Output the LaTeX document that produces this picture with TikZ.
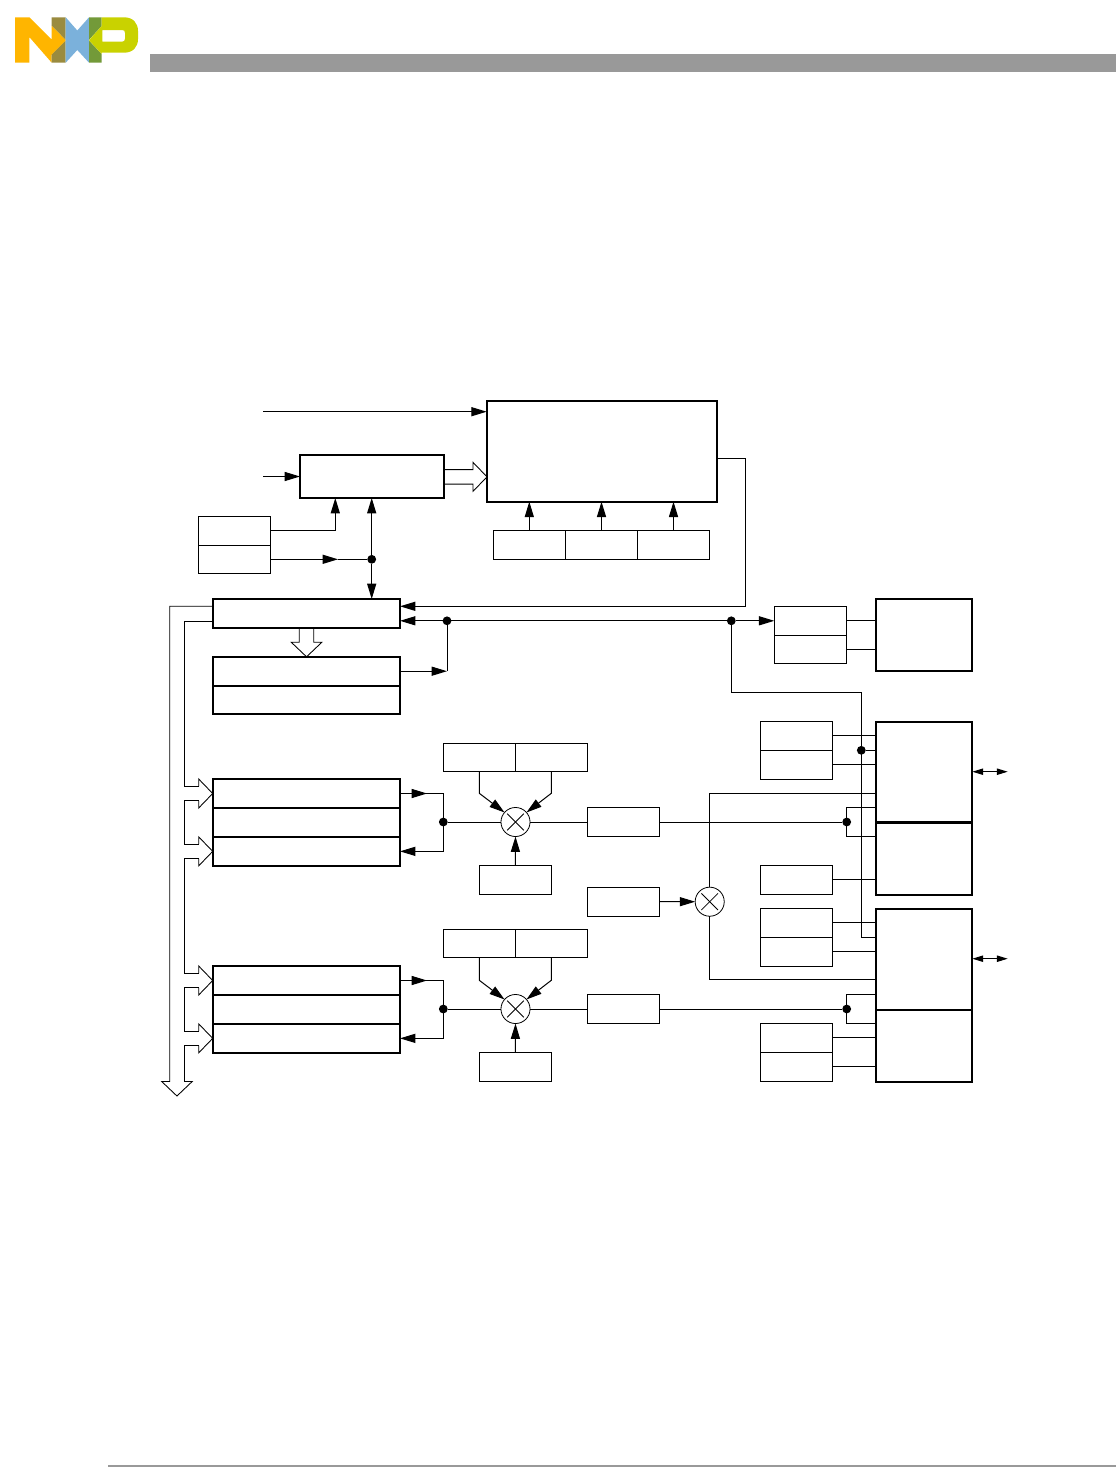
\documentclass[tikz,border=0pt]{standalone}
\usepackage{xcolor}
\usepackage{tikz}
\usetikzlibrary{
	arrows.meta,
	calc
}
\definecolor{nxpYellow}{HTML}{FFB500}
\definecolor{nxpOlive}{HTML}{9A8B3F}
\definecolor{nxpBlue}{HTML}{7BB1DB}
\definecolor{nxpGreen}{HTML}{739A39}
\definecolor{nxpLime}{HTML}{C9D200}
\definecolor{barGray}{HTML}{999999}
\newcommand\PlaceBox[6]{
	% #1: style, #2: name
	% #3,#4: top left corner, #5,#6: bottom right corner (in pixels)
	\node[#1, minimum width={((#5)-(#3))*0.75pt}, minimum height={((#6)-(#4))*0.75pt}]
		(#2) at ({((#3)+(#5))/2},{((#4)+(#6))/2}) {};
}
\newcommand\HeadRight{
	-- ++(0,-7.25) -- ++(14,14.5) -- ++(-14,14.5) -- ++(0,-7.25)
}
\newcommand\HeadDown{
	-- ++(-8,0) -- ++(15.25,14.5) -- ++(15.25,-14.5) -- ++(-8,0)
}
\tikzstyle{every picture}+=[>={Triangle[length=11.5pt,width=6.8pt]}]
\tikzset{
	thinbox/.style={draw, line width=0.75pt, inner sep=0pt, outer sep=0pt},
	thickbox/.style={draw, line width=1.6pt, inner sep=0pt, outer sep=0pt},
	wire/.style={line width=0.75pt},
	bus/.style={line width=0.65pt, line join=miter},
	dot/.style={circle, fill=black, minimum size=6.6pt, inner sep=0pt, outer sep=0pt},
	mixer/.style={circle, draw, line width=0.6pt, minimum size=21.8pt, inner sep=0pt, outer sep=0pt,
		path picture={
			\draw[line width=0.6pt] (path picture bounding box.center) ++(-6.2pt,-6.2pt) -- ++(12.4pt,12.4pt);
			\draw[line width=0.6pt] (path picture bounding box.center) ++(-6.2pt,6.2pt) -- ++(12.4pt,-12.4pt);
		}
	},
	smallarr/.style={<->, >={Triangle[length=8.2pt,width=4.8pt]}}
}
\begin{document}
\begin{tikzpicture}[x=0.75pt, y=-0.75pt]
	\useasboundingbox (0,0) rectangle (1116,1474);

	% page furniture
	\fill[barGray] (150,54) rectangle (1116,72);
	\fill[barGray] (108,1465) rectangle (1116,1467);
	\fill[nxpYellow] (15,17.3) -- (29.3,17.3) -- (51.7,39.5) -- (51.7,25.5) -- (65.7,39.8) -- (65.7,40.6) -- (51.7,54.8)
		-- (51.7,62.7) -- (29.3,37) -- (29.3,62.7) -- (15,62.7) -- cycle;
	\fill[nxpOlive] (51.7,17.3) -- (65.7,17.3) -- (65.7,39.8) -- (51.7,25.5) -- cycle;
	\fill[nxpOlive] (51.7,54.8) -- (65.7,40.6) -- (65.7,62.7) -- (51.7,62.7) -- cycle;
	\fill[nxpBlue] (65.7,17.3) -- (77.3,30.5) -- (89,17.3) -- (89,62.7) -- (77.3,50) -- (65.7,62.7) -- cycle;
	\fill[nxpGreen] (89,17.3) -- (101.7,17.3) -- (101.7,26) -- (89,39.8) -- cycle;
	\fill[nxpGreen] (89,40.6) -- (101.7,54) -- (101.7,62.7) -- (89,62.7) -- cycle;
	\fill[nxpLime, even odd rule] (89,40.2) -- (101.7,26) -- (101.7,17.3) -- (124,17.3)
		.. controls (133,17.3) and (138,23) .. (138,31) -- (138,39)
		.. controls (138,47) and (133,52.7) .. (124,52.7) -- (101.7,52.7) -- (101.7,54) -- cycle
		(102.3,30) -- (122,30) .. controls (124,30) and (125,31) .. (125,33) -- (125,38.7)
		.. controls (125,40.7) and (124,41.7) .. (122,41.7) -- (102.3,41.7) -- cycle;

	% top blocks
	\PlaceBox{thickbox}{mainBlock}{486.7}{401}{717}{501.7}
	\PlaceBox{thickbox}{ctrlBlock}{300}{455}{444}{498}
	\PlaceBox{thinbox}{clkHi}{198.3}{516.5}{270.5}{545.3}
	\PlaceBox{thinbox}{clkLo}{198.3}{545.3}{270.5}{573.3}
	\foreach \n/\x in {1/493.3, 2/565.5, 3/637.5} {
		\PlaceBox{thinbox}{sel\n}{\x}{530.3}{\x+72}{559.3}
		\draw[wire, ->] (sel\n.north) -- (sel\n.north |- mainBlock.south);
	}
	\PlaceBox{thickbox}{busBlock}{212.7}{599}{400}{628}
	\PlaceBox{thickbox}{regHi}{212.7}{656.7}{400}{685.7}
	\PlaceBox{thickbox}{regLo}{212.7}{685.7}{400}{713.7}

	\coordinate (inTop) at (263.3,411.7);
	\coordinate (inCtrl) at (263.3,476.5);
	\coordinate (ctrlFoot) at (335.3,498);
	\coordinate (clkMark) at (338,559.3);
	\node[dot] (dotClk) at (371.7,559.3) {};
	\coordinate (ctrlLeg) at (371.7,498);
	\coordinate (busLeg) at (371.7,599);
	\draw[wire, ->] (inTop) -- (mainBlock.west |- inTop);
	\draw[wire, ->] (inCtrl) -- (ctrlBlock.west);
	\draw[wire, ->] (clkHi.east) -| (ctrlFoot);
	\draw[wire, ->] (clkLo.east) -- (clkMark);
	\draw[wire] (clkMark) -- (dotClk);
	\draw[wire, ->] (dotClk) -- (ctrlLeg);
	\draw[wire, ->] (dotClk) -- (busLeg);
	\draw[bus] (ctrlBlock.east |- 0,469.6) -- (473,469.6) \HeadRight -- (ctrlBlock.east |- 0,484.1);

	\coordinate (mainTap) at (717,458);
	\coordinate (turnMain) at (745.5,606.3);
	\coordinate (busTap) at (400,606.3);
	\draw[wire, ->] (mainTap) -| (turnMain) -- (busTap);
	\node[dot] (dotBusL) at (447,620.8) {};
	\node[dot] (dotBusR) at (731.3,620.8) {};
	\draw[wire, ->] (dotBusL) -- (busBlock.east |- dotBusL);
	\draw[wire] (dotBusL) -- (dotBusR);
	\draw[wire, ->] (regHi.east) -- (regHi.east -| dotBusL);
	\draw[wire] (regHi.east -| dotBusL) -- (dotBusL);
	\draw[bus] (299.3,628) -- (299.3,642.3) \HeadDown -- (313.8,628);

	% the two channels
	\foreach \n/\dy/\dz in {A/0/0, B/187/186} {
		\PlaceBox{thickbox}{rowOne\n}{212.7}{779+\dy}{400}{808+\dy}
		\PlaceBox{thickbox}{rowTwo\n}{212.7}{808+\dy}{400}{837+\dy}
		\PlaceBox{thickbox}{rowThree\n}{212.7}{837+\dy}{400}{865.7+\dy}
		\PlaceBox{thinbox}{gainL\n}{443.3}{743.3+\dz}{515.3}{771.3+\dz}
		\PlaceBox{thinbox}{gainR\n}{515.3}{743.3+\dz}{587.3}{771.3+\dz}
		\PlaceBox{thinbox}{src\n}{479.3}{865.3+\dy}{551.3}{894+\dy}
		\PlaceBox{thinbox}{out\n}{587.3}{807.5+\dy}{659.7}{836.5+\dy}
		\node[mixer] (mix\n) at (515.5,{822+\dy}) {};
		\node[dot] (jn\n) at (443.3,{822+\dy}) {};
		\node[dot] (tap\n) at (846.7,{822+\dy}) {};

		\draw[wire, ->] (rowOne\n.east) -- ++(27,0);
		\draw[wire] (rowOne\n.east) -| (jn\n);
		\draw[wire, ->] (jn\n) |- (rowThree\n.east);
		\draw[wire] (jn\n) -- (mix\n.west);
		\draw[wire, ->] (gainL\n.south) -- ++(0,{22+\dy-\dz}) -- (mix\n.139);
		\draw[wire, ->] (gainR\n.south -| src\n.east) -- ++(0,{22+\dy-\dz}) -- (mix\n.41);
		\draw[wire, ->] (src\n.north) -- (mix\n.south);
		\draw[wire] (mix\n.east) -- (out\n.west);
		\draw[wire] (out\n.east) -- (tap\n);

		\foreach \r in {One, Three} {
			\coordinate (in\n\r) at ($(row\r\n.west)+(-14,-7.25)$);
			\coordinate (back\n\r) at ($(row\r\n.west)+(-14,7.25)$);
			\draw[bus] (in\n\r) \HeadRight;
		}
	}

	% hollow rails on the left
	\coordinate (railHi) at (212.7,606.3);
	\coordinate (railLo) at (212.7,621);
	\coordinate (railHiEnd) at (169.7,1081.5);
	\draw[bus] (railHi) -| (railHiEnd) \HeadDown;
	\draw[bus] (railLo) -- (184.7,621) |- (inAOne);
	\draw[bus] (backAOne) -- ++(-14,0) |- (inAThree);
	\draw[bus] (backAThree) -- ++(-14,0) |- (inBOne);
	\draw[bus] (backBOne) -- ++(-14,0) |- (inBThree);
	\draw[bus] (backBThree) -- ++(-14,0) -- (184.7,1081.5);

	% right side
	\PlaceBox{thinbox}{lvlHi}{774.3}{606.3}{846.3}{635.3}
	\PlaceBox{thinbox}{lvlLo}{774.3}{635.3}{846.3}{663.3}
	\PlaceBox{thickbox}{padTop}{875.7}{599}{972.3}{671}
	\PlaceBox{thickbox}{drvAHi}{875.7}{722}{972.3}{822}
	\PlaceBox{thickbox}{drvALo}{875.7}{823}{972.3}{894.7}
	\PlaceBox{thickbox}{drvBHi}{875.7}{909}{972.3}{1009.7}
	\PlaceBox{thickbox}{drvBLo}{875.7}{1009.7}{972.3}{1082}
	\PlaceBox{thinbox}{dutyA}{760.3}{721.3}{832.7}{750.3}
	\PlaceBox{thinbox}{dutyB}{760.3}{750.3}{832.7}{779.3}
	\PlaceBox{thinbox}{dutyC}{760.3}{865.3}{832.7}{894.3}
	\PlaceBox{thinbox}{dutyD}{760.3}{908.3}{832.7}{937.3}
	\PlaceBox{thinbox}{dutyE}{760.3}{937.3}{832.7}{966.3}
	\PlaceBox{thinbox}{dutyF}{760.3}{1023.3}{832.7}{1052.3}
	\PlaceBox{thinbox}{dutyG}{760.3}{1052.3}{832.7}{1081.3}
	\PlaceBox{thinbox}{trim}{587.3}{887.3}{659.7}{916}
	\node[mixer] (mixC) at (709.7,901.7) {};

	\draw[wire, ->] (dotBusR) -- (lvlHi.west);
	\draw[wire] (lvlHi.east) -- (lvlHi.east -| padTop.west);
	\draw[wire] (lvlLo.east) -- (lvlLo.east -| padTop.west);
	\foreach \b/\d in {dutyA/drvAHi, dutyB/drvAHi, dutyC/drvALo, dutyD/drvBHi, dutyE/drvBHi, dutyF/drvBLo, dutyG/drvBLo} {
		\draw[wire] (\b.east) -- (\b.east -| \d.west);
	}
	\coordinate (crossFoot) at (875.7,937.3);
	\node[dot] (dotCross) at (861.3,750.3) {};
	\draw[wire] (dotBusR) |- (861.3,692.3) -- (861.3,937.3) -- (crossFoot);
	\draw[wire] (dotCross) -- (dotCross -| drvAHi.west);

	\draw[wire, ->] (trim.east) -- (mixC.west);
	\coordinate (mixUp) at (875.7,793.3);
	\coordinate (mixDown) at (875.7,979.3);
	\draw[wire] (mixC.north) |- (mixUp);
	\draw[wire] (mixC.south) |- (mixDown);

	\foreach \n in {A, B} {
		\draw[wire] (tap\n) |- ($(drv\n Hi.west |- tap\n)+(0,-14.5)$);
		\draw[wire] (tap\n) |- ($(drv\n Hi.west |- tap\n)+(0,14.5)$);
	}
	\coordinate (pinA) at (1007.7,771.7);
	\coordinate (pinB) at (1007.7,958.7);
	\draw[wire, smallarr] (drvAHi.east |- pinA) -- (pinA);
	\draw[wire, smallarr] (drvBHi.east |- pinB) -- (pinB);

\end{tikzpicture}
\end{document}
